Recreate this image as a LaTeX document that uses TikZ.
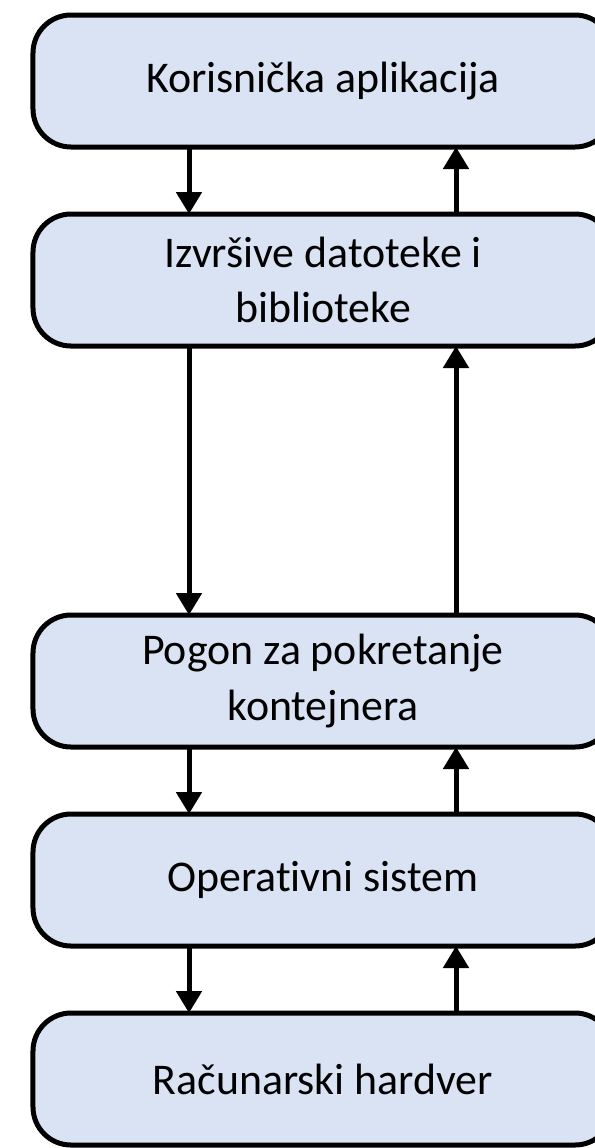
\documentclass[tikz,border=0pt]{standalone}
\usepackage{fontspec}
\setmainfont{Carlito}[Ligatures=CommonOff]
\usepackage{xcolor}
\usetikzlibrary{arrows.meta,positioning}
\definecolor{LayerFill}{HTML}{DAE3F3}
\definecolor{LayerLine}{HTML}{000000}
\tikzset{
    % Rounded layer boxes
    layer/.style={
        rectangle,
        rounded corners=38bp,
        draw=LayerLine,
        line width=5bp,
        fill=LayerFill,
        text=LayerLine,
        minimum width=580bp,
        minimum height=132bp,
        outer sep=0pt,
        align=center,
        font=\fontsize{44}{56}\selectfont
    },
    arrow/.style={
        -{Triangle[length=22bp,width=25bp]},
        line width=5bp,
        color=LayerLine
    }
}

\begin{document}
\begin{tikzpicture}[x=1bp, y=1bp, node distance=67bp]
        \useasboundingbox (0,0) rectangle (595,-1148);

        % Layer nodes
        \node[layer] (app) at (323,-81) {Korisnička aplikacija};
        \node[layer, below=of app] (lib) {Izvršive datoteke i\\biblioteke};
        \node[layer, below=269bp of lib] (engine) {Pogon za pokretanje\\kontejnera};
        \node[layer, below=of engine] (os) {Operativni sistem};
        \node[layer, below=of os] (hw) {Računarski hardver};

        % Arrows down
        \draw[arrow] ([xshift=-134bp]app.south) -- ([xshift=-134bp]lib.north);
        \draw[arrow] ([xshift=-134bp]lib.south) -- ([xshift=-134bp]engine.north);
        \draw[arrow] ([xshift=-134bp]engine.south) -- ([xshift=-134bp]os.north);
        \draw[arrow] ([xshift=-134bp]os.south) -- ([xshift=-134bp]hw.north);

        % Arrows up
        \draw[arrow] ([xshift=133bp]lib.north) -- ([xshift=133bp]app.south);
        \draw[arrow] ([xshift=133bp]engine.north) -- ([xshift=133bp]lib.south);
        \draw[arrow] ([xshift=133bp]os.north) -- ([xshift=133bp]engine.south);
        \draw[arrow] ([xshift=133bp]hw.north) -- ([xshift=133bp]os.south);
    \end{tikzpicture}
\end{document}
